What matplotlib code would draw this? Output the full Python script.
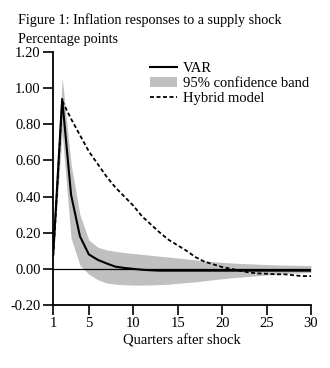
import matplotlib
matplotlib.use("Agg")
import matplotlib.pyplot as plt
from matplotlib.patches import Patch
from matplotlib.lines import Line2D

plt.rcParams['font.family'] = ['Liberation Serif', 'DejaVu Serif']

quarters = list(range(1, 31))

var_response = [0.09, 0.94, 0.41, 0.18, 0.08, 0.05, 0.03, 0.012, 0.005, 0.0,
                -0.005, -0.008, -0.01, -0.01, -0.01, -0.01, -0.01, -0.01, -0.01, -0.01,
                -0.01, -0.01, -0.01, -0.01, -0.01, -0.01, -0.01, -0.01, -0.01, -0.01]

band_upper = [0.11, 1.06, 0.58, 0.30, 0.16, 0.12, 0.105, 0.097, 0.09, 0.085,
              0.08, 0.075, 0.07, 0.065, 0.06, 0.055, 0.05, 0.045, 0.04, 0.036,
              0.033, 0.03, 0.028, 0.026, 0.024, 0.022, 0.021, 0.02, 0.019, 0.018]

band_lower = [0.07, 0.75, 0.17, 0.02, -0.03, -0.06, -0.078, -0.085, -0.088, -0.09,
              -0.09, -0.089, -0.087, -0.085, -0.08, -0.076, -0.072, -0.066, -0.06, -0.055,
              -0.05, -0.046, -0.042, -0.038, -0.034, -0.03, -0.027, -0.024, -0.022, -0.02]

hybrid_model = [0.07, 0.93, 0.83, 0.74, 0.65, 0.58, 0.51, 0.45, 0.40, 0.35,
                0.29, 0.245, 0.20, 0.16, 0.13, 0.10, 0.065, 0.04, 0.025, 0.01,
                0.0, -0.01, -0.02, -0.025, -0.027, -0.03, -0.03, -0.035, -0.04, -0.04]

x_ticks = [1, 5, 10, 15, 20, 25, 30]
y_ticks = [-0.20, 0.00, 0.20, 0.40, 0.60, 0.80, 1.00, 1.20]

fig = plt.figure(figsize=(3.30, 3.68), dpi=100)
ax = fig.add_axes([0.1615, 0.1712, 0.7809, 0.6875])

band_color = '#c0c0c0'
dash = (0, (2.2, 1.4))
ax.fill_between(quarters, band_lower, band_upper, color=band_color, lw=0, zorder=1)
ax.axhline(0, color='black', lw=0.9, zorder=2)
ax.plot(quarters, var_response, color='black', lw=1.5, zorder=3)
ax.plot(quarters, hybrid_model, color='black', lw=1.3, linestyle=dash, zorder=4)

ax.set_xlim(1, 30)
ax.set_ylim(-0.2, 1.2)
ax.set_xticks(x_ticks)
ax.set_yticks(y_ticks)
ax.set_yticklabels([f"{v:.2f}" for v in y_ticks])
ax.tick_params(axis='both', direction='out', length=7, width=1.2, labelsize=10.5,
               colors='black', pad=2)
for side in ('top', 'right'):
    ax.spines[side].set_visible(False)
for side in ('left', 'bottom'):
    ax.spines[side].set_linewidth(1.3)

ax.set_xlabel('Quarters after shock', fontsize=10.5, labelpad=3)

handles = [Line2D([0], [0], color='black', lw=1.5),
           Patch(facecolor=band_color, edgecolor='none'),
           Line2D([0], [0], color='black', lw=1.3, linestyle=dash)]
labels = ['VAR', '95% confidence band', 'Hybrid model']
ax.legend(handles, labels, loc='upper left', bbox_to_anchor=(0.34, 1.0),
          frameon=False, fontsize=10.5, handlelength=1.85, handleheight=0.7,
          handletextpad=0.4, labelspacing=0.15, borderaxespad=0.25)

fig.text(18 / 330, 1 - 20 / 368, 'Figure 1: Inflation responses to a supply shock',
         fontsize=10.2, va='center', ha='left')
fig.text(18 / 330, 1 - 40 / 368, 'Percentage points',
         fontsize=10.2, va='center', ha='left')

fig.savefig('out.png', dpi=100)
